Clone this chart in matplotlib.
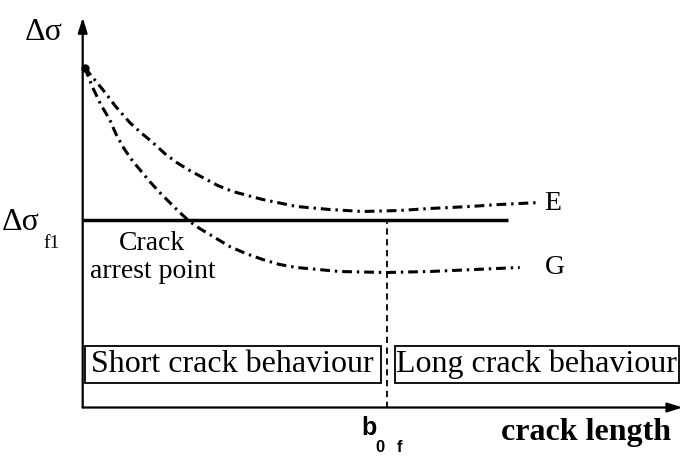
import matplotlib
matplotlib.use("Agg")
import matplotlib.pyplot as plt
from matplotlib.patches import Rectangle

# ---- data (arbitrary units: x = crack length, y = stress range) ----
curve_E_x = [2, 10, 20, 33, 47, 58, 70, 82, 94, 107, 120, 135, 150, 165, 180, 214, 247, 280, 317, 347, 387, 417, 457]
curve_E_y = [340, 330, 318, 301, 285, 275, 265, 254, 245, 237, 230, 222, 216, 212, 208, 201, 198, 196, 197, 199, 201, 203, 205]
curve_G_x = [2, 6, 10, 18, 27, 33, 40, 48, 57, 67, 77, 87, 97, 107, 117, 127, 147, 163, 180, 197, 214, 257, 304, 347, 392, 437]
curve_G_y = [340, 330, 320, 303, 288, 274, 261, 249, 238, 226, 215, 205, 195, 186, 179, 173, 161, 154, 148, 143, 140, 136, 135, 136, 138, 140]
threshold_y = 187.5          # delta sigma f1
threshold_x_end = 425
b0f_x = 304                  # transition crack length
x_max, y_max = 600, 390
region_labels = ["Short crack behaviour", "Long crack behaviour"]
curve_labels = ["E", "G"]

serif = "Liberation Serif"
sans = "Liberation Sans"

fig = plt.figure(figsize=(6.84, 4.68), dpi=100)
ax = fig.add_axes([82.7 / 684, 60.5 / 468, 600 / 684, 390 / 468])
ax.set_xlim(0, x_max)
ax.set_ylim(0, y_max)
ax.axis("off")

arrow = dict(arrowstyle="-|>,head_length=0.9,head_width=0.28", color="black",
             lw=1.6, shrinkA=0, shrinkB=0)
ax.annotate("", xy=(x_max, 0), xytext=(0, 0), arrowprops=arrow, annotation_clip=False)
ax.annotate("", xy=(0, y_max), xytext=(0, 0), arrowprops=arrow, annotation_clip=False)

dashdot = (0, (3.2, 1.6, 0.8, 1.6))
for xs, ys in [(curve_E_x, curve_E_y), (curve_G_x, curve_G_y)]:
    ax.plot(xs, ys, color="black", lw=2.2, linestyle=dashdot, clip_on=False,
            solid_joinstyle="round")
# start blob of the curves
ax.plot([curve_E_x[0]], [curve_E_y[0]], marker="o", ms=5, color="black", clip_on=False)

ax.plot([0, threshold_x_end], [threshold_y, threshold_y], color="black", lw=2.5,
        solid_capstyle="butt")
ax.plot([b0f_x, b0f_x], [0, threshold_y], color="black", lw=1.3,
        linestyle=(0, (3.5, 2.5)))

# region boxes
ax.add_patch(Rectangle((2.3, 24.5), 295.7, 37, fill=False, lw=1.3, ec="black"))
ax.add_patch(Rectangle((312, 24.5), 284, 37, fill=False, lw=1.3, ec="black"))
ax.text(150, 43, region_labels[0], family=serif, fontsize=23, ha="center", va="center")
ax.text(454, 43, region_labels[1], family=serif, fontsize=23, ha="center", va="center")

# labels
ax.text(-39, 374.5, "Δσ", family=serif, fontsize=23, ha="center", va="center")
ax.text(-62, 185.5, "Δσ", family=serif, fontsize=23, ha="center", va="center")
ax.text(-31, 163.5, "f1", family=serif, fontsize=14, ha="center", va="center")
ax.text(69, 164.5, "Crack", family=serif, fontsize=20, ha="center", va="center")
ax.text(70, 135.5, "arrest point", family=serif, fontsize=20, ha="center", va="center")
ax.text(462, 203.5, curve_labels[0], family=serif, fontsize=20, ha="left", va="center")
ax.text(462, 139.5, curve_labels[1], family=serif, fontsize=20, ha="left", va="center")
ax.text(503, -25, "crack length", family=serif, fontsize=23, weight="bold",
        ha="center", va="center")
ax.text(286, -20.5, "b", family=sans, fontsize=18, weight="bold", ha="center", va="center")
ax.text(297, -40.5, "0", family=sans, fontsize=12, weight="bold", ha="center", va="center")
ax.text(317, -40.5, "f", family=sans, fontsize=12, weight="bold", ha="center", va="center")

fig.savefig("out.png", dpi=100)
